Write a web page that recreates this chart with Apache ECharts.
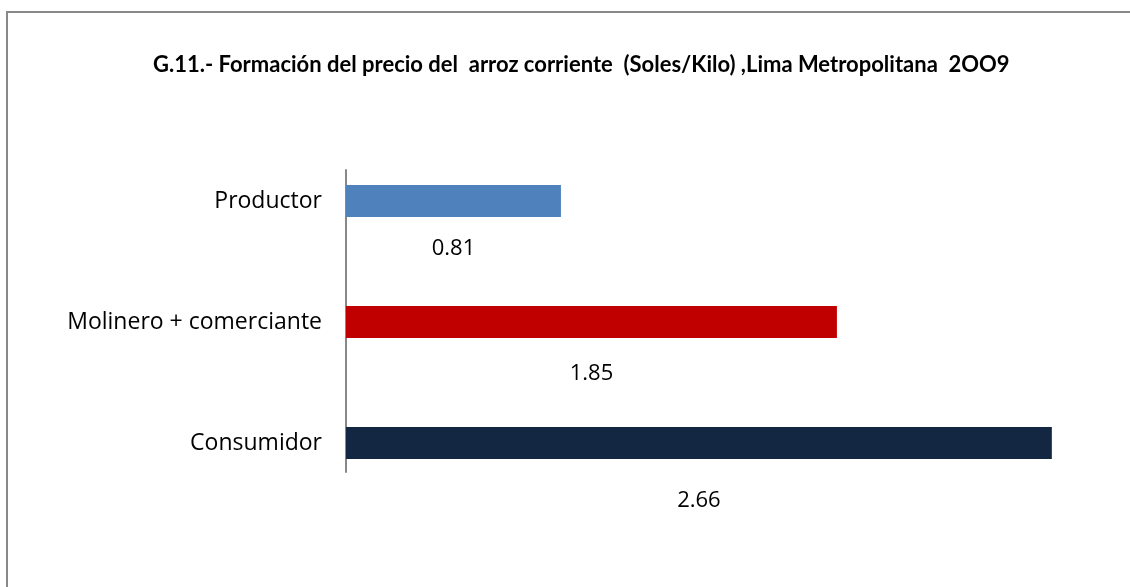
<!DOCTYPE html>
<html>
<head>
<meta charset="utf-8">
<script src="https://cdn.jsdelivr.net/npm/echarts@6/dist/echarts.min.js"></script>
<style>
html,body{margin:0;padding:0;background:#fff;}
#chart{width:1130px;height:587px;}
</style>
</head>
<body>
<div id="chart"></div>
<script>
const titleText = 'G.11.- Formación del precio del  arroz corriente  (Soles/Kilo) ,Lima Metropolitana  2OO9';
const categories = ['Productor', 'Molinero + comerciante', 'Consumidor'];
const values = [0.81, 1.85, 2.66];
const barColors = ['#4F81BD', '#C00000', '#132743'];
const labelDistances = [21, 25, 31];

const chart = echarts.init(document.getElementById('chart'), null, {renderer: 'canvas'});
const font = '"Open Sans", sans-serif';

chart.setOption({
  animation: false,
  backgroundColor: '#ffffff',
  graphic: [{
    type: 'rect',
    shape: {x: 7, y: 12, width: 1400, height: 900},
    style: {fill: 'none', stroke: '#898989', lineWidth: 2},
    silent: true, z: 0
  }],
  title: {
    text: titleText,
    left: 148,
    top: 49,
    textStyle: {fontFamily: 'Lato, sans-serif', fontWeight: 'bold', fontSize: 22, color: '#000'}
  },
  grid: [
    {left: 346, top: 140.5, height: 363, width: 743, containLabel: false, outerBoundsMode: 'none'},
    {left: 346, top: 170, height: 302, width: 10, containLabel: false, outerBoundsMode: 'none'}
  ],
  xAxis: [
    {gridIndex: 0, type: 'value', min: 0, max: 2.8, show: false},
    {gridIndex: 1, type: 'value', min: 0, max: 1, show: false}
  ],
  yAxis: [
    {
      gridIndex: 0, type: 'category', data: categories, inverse: true,
      axisLine: {show: false}, axisTick: {show: false},
      axisLabel: {fontFamily: font, fontSize: 23, color: '#000', margin: 24}
    },
    {
      gridIndex: 1, type: 'value', min: 0, max: 1,
      axisLine: {show: true, lineStyle: {color: '#888888', width: 2}},
      axisTick: {show: false}, axisLabel: {show: false}, splitLine: {show: false}
    }
  ],
  series: [{
    type: 'bar',
    xAxisIndex: 0, yAxisIndex: 0,
    barWidth: 32,
    data: values.map((v, i) => ({
      value: v,
      itemStyle: {color: barColors[i]},
      label: {distance: labelDistances[i]}
    })),
    label: {
      show: true,
      position: 'bottom',
      formatter: p => p.value.toFixed(2),
      fontFamily: font, fontSize: 22, color: '#000'
    }
  }]
});
</script>
</body>
</html>
